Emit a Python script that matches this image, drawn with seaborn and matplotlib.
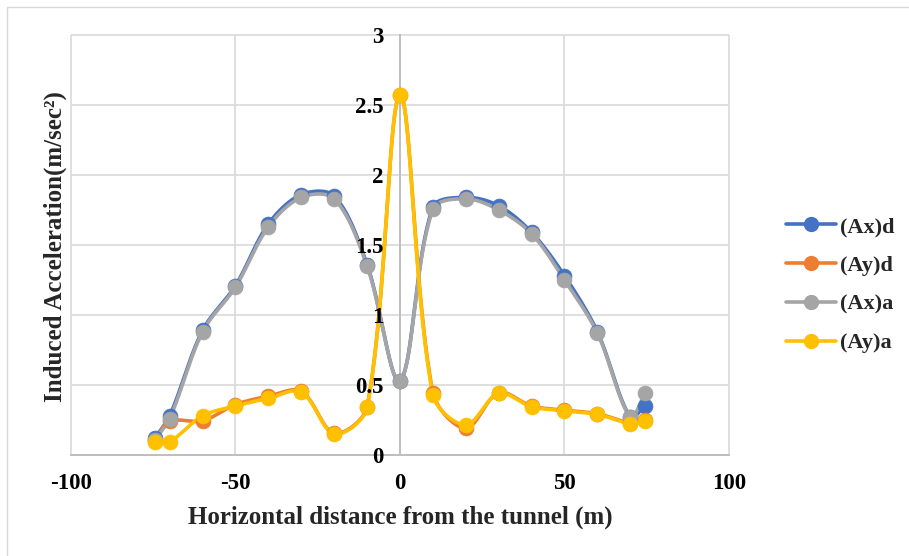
import numpy as np
import matplotlib
matplotlib.use("Agg")
import matplotlib.pyplot as plt
from matplotlib.lines import Line2D
from matplotlib.patches import Rectangle
import seaborn as sns

# Horizontal distance from the tunnel (m)
distance = [-74.5, -70, -60, -50, -40, -30, -20, -10, 0, 10, 20, 30, 40, 50, 60, 70, 74.5]

# Induced accelerations (m/sec^2)
ax_d = [0.12, 0.28, 0.89, 1.21, 1.65, 1.86, 1.85, 1.36, 0.53, 1.77, 1.84, 1.78, 1.59, 1.28, 0.88, 0.27, 0.35]
ay_d = [0.10, 0.24, 0.245, 0.36, 0.42, 0.455, 0.155, 0.345, 2.57, 0.445, 0.19, 0.445, 0.35, 0.32, 0.295, 0.23, 0.25]
ax_a = [0.11, 0.26, 0.88, 1.20, 1.63, 1.84, 1.83, 1.35, 0.53, 1.755, 1.83, 1.75, 1.58, 1.25, 0.87, 0.27, 0.44]
ay_a = [0.09, 0.095, 0.28, 0.35, 0.405, 0.45, 0.15, 0.34, 2.57, 0.43, 0.215, 0.44, 0.345, 0.315, 0.29, 0.225, 0.245]

series_names = ["(Ax)d", "(Ay)d", "(Ax)a", "(Ay)a"]
series_values = [ax_d, ay_d, ax_a, ay_a]
series_colors = ["#4472C4", "#ED7D31", "#A5A5A5", "#FFC000"]

x_ticks = [-100, -50, 0, 50, 100]
x_tick_labels = ["-100", "-50", "0", "50", "100"]
y_ticks = [0, 0.5, 1, 1.5, 2, 2.5, 3]
y_tick_labels = ["0", "0.5", "1", "1.5", "2", "2.5", "3"]

X_LIM = (-100, 100)
Y_LIM = (0, 3)


def smooth_curve(xs, ys, sx, sy, samples=40):
    """Bezier smoothing with chord-length-weighted tangents (computed in screen units)."""
    p = np.column_stack([np.asarray(xs, float) * sx, np.asarray(ys, float) * sy])
    p_ext = np.vstack([p[0], p, p[-1]])
    out = []
    t = np.linspace(0, 1, samples)[:, None]
    for i in range(1, len(p_ext) - 2):
        p0, p1, p2, p3 = p_ext[i - 1], p_ext[i], p_ext[i + 1], p_ext[i + 2]
        d01 = np.linalg.norm(p1 - p0)
        d12 = np.linalg.norm(p2 - p1)
        d23 = np.linalg.norm(p3 - p2)
        f1 = d12 / (d01 + d12) if d01 + d12 > 0 else 0.5
        f2 = d12 / (d12 + d23) if d12 + d23 > 0 else 0.5
        b1 = p1 + (p2 - p0) * f1 / 3.0
        b2 = p2 - (p3 - p1) * f2 / 3.0
        seg = ((1 - t) ** 3) * p1 + 3 * ((1 - t) ** 2) * t * b1 + 3 * (1 - t) * t ** 2 * b2 + t ** 3 * p2
        out.append(seg if i == 1 else seg[1:])
    c = np.vstack(out)
    return c[:, 0] / sx, c[:, 1] / sy


sns.set_theme(style="white")
plt.rcParams["font.family"] = ["Liberation Serif", "DejaVu Serif"]
plt.rcParams["font.weight"] = "bold"
plt.rcParams["axes.unicode_minus"] = False

W, H = 909, 556
fig = plt.figure(figsize=(W / 100, H / 100), dpi=100)
fig.patches.append(Rectangle((7 / W, -0.1), 1.2, 1 - 7 / H + 0.1, transform=fig.transFigure,
                             fill=False, edgecolor="#d9d9d9", linewidth=1.0, zorder=0))
left, right, top, bottom = 71, 729, 35, 455
ax = fig.add_axes([left / W, 1 - bottom / H, (right - left) / W, (bottom - top) / H])

# pixels per data unit, used to weight the smoothing like the screen does
px_x = (right - left) / (X_LIM[1] - X_LIM[0])
px_y = (bottom - top) / (Y_LIM[1] - Y_LIM[0])

# light gridlines beneath the series
ax.hlines(y_ticks, X_LIM[0], X_LIM[1], colors="#d9d9d9", linewidth=1.2, zorder=0.5, clip_on=False)
ax.vlines(x_ticks, Y_LIM[0], Y_LIM[1], colors="#d9d9d9", linewidth=1.2, zorder=0.5, clip_on=False)

for name, vals, col in zip(series_names, series_values, series_colors):
    cx, cy = smooth_curve(distance, vals, px_x, px_y)
    sns.lineplot(x=cx, y=cy, ax=ax, color=col, linewidth=2.6, sort=False, estimator=None,
                 legend=False, zorder=3)
    sns.scatterplot(x=distance, y=vals, ax=ax, color=col, s=115, edgecolor=col, linewidth=0.5,
                    legend=False, zorder=4)

ax.set_xlim(*X_LIM)
ax.set_ylim(*Y_LIM)
ax.set_xticks(x_ticks)
ax.set_xticklabels(x_tick_labels)
ax.set_yticks(y_ticks)
ax.set_yticklabels(y_tick_labels)
ax.grid(False)

for s in ["top", "right"]:
    ax.spines[s].set_visible(False)
ax.spines["left"].set_position(("data", 0))
ax.spines["left"].set_color("#bfbfbf")
ax.spines["left"].set_linewidth(1.4)
ax.spines["bottom"].set_color("#bfbfbf")
ax.spines["bottom"].set_linewidth(1.4)
ax.spines["left"].set_zorder(2)
ax.spines["bottom"].set_zorder(2)

# value labels of the vertical axis sit on top of the curves
ax.yaxis.set_zorder(6)
ax.xaxis.set_zorder(6)

ax.tick_params(axis="both", length=0, labelsize=16.5, colors="black")
ax.tick_params(axis="y", pad=12)
ax.tick_params(axis="x", pad=13)
for lab in ax.get_xticklabels() + ax.get_yticklabels():
    lab.set_fontweight("bold")

fig.text(400 / W, 1 - 517 / H, "Horizontal distance from the tunnel (m)", ha="center", va="center",
         fontsize=18, fontweight="bold")
fig.text(55 / W, 1 - 247 / H, "Induced Acceleration(m/sec²)", ha="center", va="center",
         rotation=90, fontsize=18, fontweight="bold")

handles = [Line2D([0], [0], color=c, linewidth=2.6, marker="o", markersize=10) for c in series_colors]
fig.legend(handles, series_names, loc="center left", bbox_to_anchor=(786 / W, 1 - 285 / H),
           frameon=False, prop={"weight": "bold", "size": 16}, handlelength=2.25,
           handletextpad=0.2, labelspacing=0.82, borderpad=0, borderaxespad=0)

fig.savefig("out.png", dpi=100)
